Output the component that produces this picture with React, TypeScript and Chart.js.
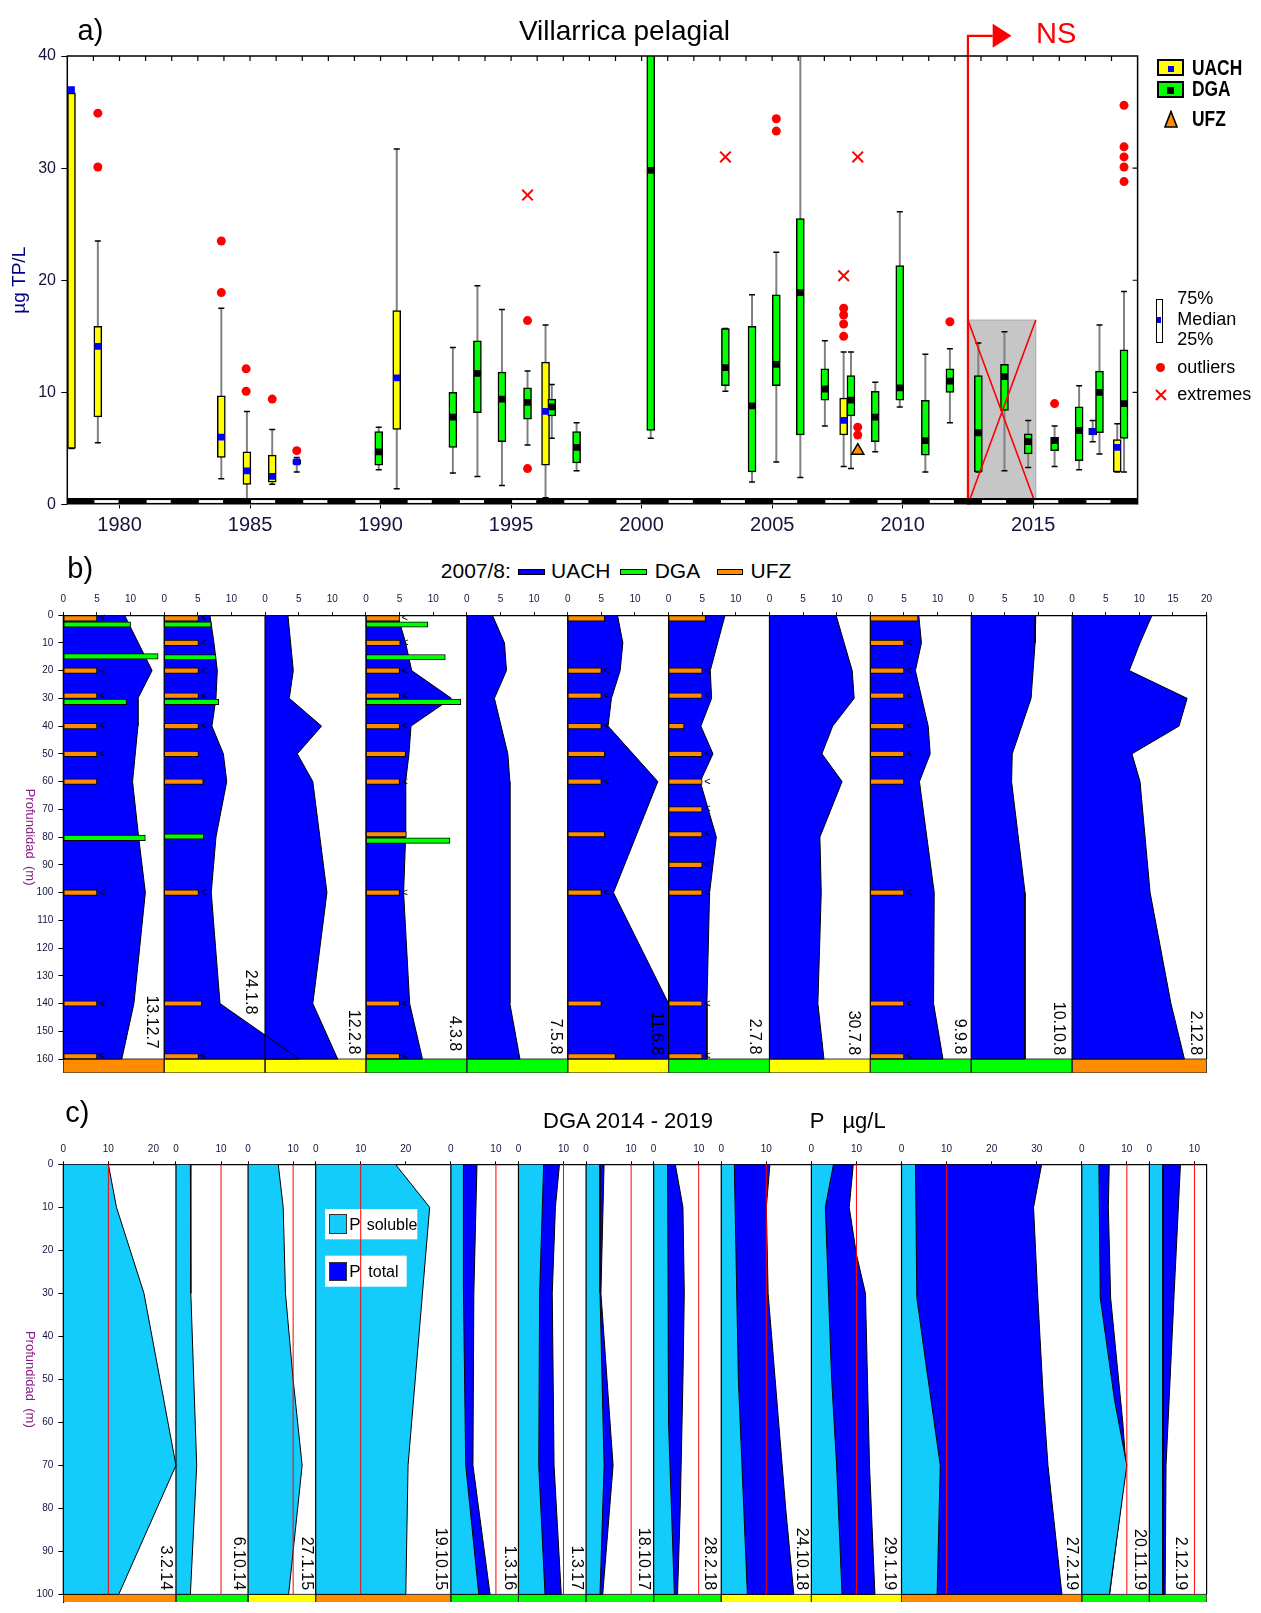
import React, { useEffect, useRef } from 'react';
import { Chart, registerables } from 'chart.js';

Chart.register(...registerables);
Chart.defaults.font.family = '"Liberation Sans", Arial, sans-serif';

// ================= Panel a) data =================
const yearTickLabels = [1980, 1985, 1990, 1995, 2000, 2005, 2010, 2015];
const valueTicks = [0, 10, 20, 30, 40];

const boxYear = [1978.16, 1979.17, 1983.9, 1984.88, 1985.85, 1986.79, 1989.93, 1990.62, 1992.77, 1993.71, 1994.65, 1995.63, 1996.32, 1996.56, 1997.51, 2000.35, 2003.21, 2004.23, 2005.16, 2006.08, 2007.02, 2007.74, 2008.02, 2008.95, 2009.89, 2010.87, 2011.81, 2012.9, 2013.9, 2014.81, 2015.82, 2016.76, 2017.28, 2017.54, 2018.22, 2018.48];
const boxSource = ['UACH', 'UACH', 'UACH', 'UACH', 'UACH', 'UACH', 'DGA', 'UACH', 'DGA', 'DGA', 'DGA', 'DGA', 'UACH', 'DGA', 'DGA', 'DGA', 'DGA', 'DGA', 'DGA', 'DGA', 'DGA', 'UACH', 'DGA', 'DGA', 'DGA', 'DGA', 'DGA', 'DGA', 'DGA', 'DGA', 'DGA', 'DGA', 'UACH', 'DGA', 'UACH', 'DGA'];
const boxQ1 = [5.0, 7.8, 4.2, 1.8, 2.0, 3.6, 3.5, 6.7, 5.1, 8.2, 5.6, 7.6, 3.5, 7.9, 3.7, 6.6, 10.6, 2.9, 10.6, 6.2, 9.3, 6.2, 7.9, 5.6, 9.3, 4.4, 10.0, 2.9, 8.4, 4.5, 4.8, 3.9, 6.2, 6.4, 2.9, 5.9];
const boxQ3 = [36.7, 15.9, 9.7, 4.7, 4.4, 4.0, 6.5, 17.3, 10.0, 14.6, 11.8, 10.4, 12.7, 9.4, 6.5, 45, 15.7, 15.9, 18.7, 25.5, 12.1, 9.5, 11.5, 10.1, 21.3, 9.3, 12.1, 11.5, 12.5, 6.3, 6.0, 8.7, 6.8, 11.9, 5.8, 13.8];
const boxMedian = [37.0, 14.1, 6.0, 3.0, 2.5, 3.8, 4.7, 11.3, 7.8, 11.7, 9.4, 9.1, 8.3, 8.7, 5.1, 29.8, 12.2, 8.8, 12.5, 18.9, 10.3, 7.5, 9.3, 7.8, 10.4, 5.7, 11.0, 6.4, 11.4, 5.6, 5.7, 6.6, 6.5, 10.0, 5.1, 9.0];
const boxMin = [5.0, 5.5, 2.3, 0.2, 1.8, 2.9, 3.1, 1.4, 2.8, 2.5, 1.7, 5.3, 0.6, 5.9, 3.0, 5.9, 10.1, 2.0, 3.8, 2.4, 7.0, 3.4, 3.2, 4.7, 8.7, 2.9, 7.3, 2.9, 3.0, 3.3, 3.4, 3.1, 5.6, 4.5, 2.9, 2.9];
const boxMax = [36.7, 23.5, 17.5, 8.3, 6.7, 4.2, 6.9, 31.7, 14.0, 19.5, 17.4, 11.9, 16.0, 10.7, 7.3, 45, 15.7, 18.7, 22.5, 45, 14.6, 13.6, 13.6, 10.9, 26.1, 13.4, 13.9, 14.4, 15.4, 7.5, 7.0, 10.6, 7.5, 16.0, 7.2, 19.0];

const outlierYear = [1979.17, 1979.17, 1983.9, 1983.9, 1984.85, 1984.85, 1985.85, 1986.79, 1995.63, 1995.63, 2005.16, 2005.16, 2007.74, 2007.74, 2007.74, 2007.74, 2008.28, 2008.28, 2011.81, 2015.82, 2018.48, 2018.48, 2018.48, 2018.48, 2018.48];
const outlierValue = [34.9, 30.1, 23.5, 18.9, 12.1, 10.1, 9.4, 4.8, 16.4, 3.2, 34.4, 33.3, 17.5, 16.9, 16.1, 15.0, 6.9, 6.2, 16.3, 9.0, 35.6, 31.9, 31.0, 30.1, 28.8];
const extremeYear = [1995.63, 2003.21, 2007.74, 2008.28];
const extremeValue = [27.6, 31.0, 20.4, 31.0];
const ufzYear = [2008.28];
const ufzValue = [4.8];

const nsPeriod = [2012.5, 2015.1];
const nsBoxTop = 16.45;
const nsArrowLevel = 41.8;
const nsArrowX = [2013.45, 2014.17];

// ================= Panel b) data =================
const bDates = ['13.12.7', '24.1.8', '12.2.8', '4.3.8', '7.5.8', '11.6.8', '2.7.8', '30.7.8', '9.9.8', '10.10.8', '2.12.8'];
const bRange = [15, 15, 15, 15, 15, 15, 15, 15, 15, 15, 20];
const bPhase = ['A', 'B', 'B', 'C', 'C', 'B', 'C', 'B', 'C', 'C', 'A'];
const bDepthTicks = [0, 10, 20, 30, 40, 50, 60, 70, 80, 90, 100, 110, 120, 130, 140, 150, 160];
const bUachDepth = [
  [0, 20, 30, 40, 60, 80, 100, 140, 160],
  [0, 10, 20, 30, 40, 50, 60, 80, 100, 140, 160],
  [0, 20, 30, 40, 50, 60, 100, 140, 160],
  [0, 10, 20, 30, 40, 50, 60, 80, 100, 140, 160],
  [0, 10, 20, 30, 50, 60, 140, 160],
  [0, 10, 20, 30, 40, 60, 100, 140, 160],
  [0, 20, 30, 40, 50, 60, 80, 100, 140, 160],
  [0, 20, 30, 40, 50, 60, 80, 100, 140, 160],
  [0, 10, 20, 40, 50, 60, 100, 140, 160],
  [0, 10, 30, 50, 60, 100, 160],
  [0, 10, 20, 30, 40, 50, 60, 100, 140, 160],
];
const bUachTP = [
  [9.1, 13.2, 11.1, 11.1, 10.3, 11.2, 12.2, 10.5, 8.7],
  [6.8, 7.4, 7.9, 7.7, 7.1, 8.8, 9.3, 7.7, 7.0, 8.3, 20.1],
  [3.4, 4.2, 3.6, 8.4, 4.8, 7.1, 9.2, 7.1, 10.8],
  [4.7, 5.9, 6.8, 12.7, 6.7, 6.4, 5.9, 5.9, 5.6, 6.5, 8.4],
  [3.8, 5.6, 5.9, 4.1, 6.1, 6.4, 6.4, 7.9],
  [7.4, 8.2, 7.8, 6.5, 6.0, 13.4, 6.8, 15.0, 15.0],
  [8.4, 6.2, 6.4, 4.8, 6.6, 4.7, 7.1, 6.1, 5.7, 5.7],
  [9.9, 12.3, 12.6, 9.4, 7.8, 10.8, 7.5, 7.7, 7.2, 8.1],
  [7.2, 7.6, 6.7, 8.6, 8.9, 7.3, 9.5, 9.4, 10.8],
  [9.6, 9.5, 8.9, 6.1, 6.0, 8.0, 8.0],
  [11.9, 10.1, 8.5, 17.1, 15.9, 8.9, 10.1, 11.6, 14.7, 16.7],
];
const bUfzDepth = [
  [1.2, 20, 29, 40, 50, 60, 100, 140, 159],
  [1.2, 10, 20, 29, 40, 50, 60, 100, 140, 159],
  [],
  [1.2, 10, 20, 29, 40, 50, 60, 79, 100, 140, 159],
  [],
  [1.2, 20, 29, 40, 50, 60, 79, 100, 140, 159],
  [1.2, 20, 29, 40, 50, 60, 70, 79, 90, 100, 140, 159],
  [],
  [1.2, 10, 20, 29, 40, 50, 60, 100, 140, 159],
  [],
  [],
];
const bUfzTP = [
  [5, 5, 5, 5, 5, 5, 5, 5, 5],
  [5.1, 5.1, 5.1, 5.1, 5.1, 5.1, 5.8, 5.1, 5.6, 5.1],
  [],
  [5.0, 5.1, 5, 5, 5, 5.9, 5, 6.0, 5, 5, 5],
  [],
  [5.5, 5, 5, 5, 5.5, 5, 5.5, 5, 5, 7.1],
  [5.5, 5, 5, 2.3, 5, 5, 5, 5, 5, 5, 5, 5],
  [],
  [7.1, 5, 5, 5, 5, 5, 5, 5, 5, 5],
  [],
  [],
];
const bUfzBelowLimit = [
  [1, 1, 1, 1, 1, 0, 1, 1, 1],
  [1, 1, 1, 1, 1, 0, 0, 1, 0, 1],
  [],
  [1, 1, 1, 1, 1, 0, 1, 0, 1, 1, 1],
  [],
  [0, 1, 1, 1, 0, 1, 0, 1, 0, 0],
  [0, 1, 1, 0, 1, 1, 1, 1, 1, 1, 1, 1],
  [],
  [0, 1, 1, 1, 1, 1, 0, 1, 1, 1],
  [],
  [],
];
const bDgaDepth = [[3.4, 14.9, 31.3, 80.3], [3.4, 15.2, 31.3, 79.8], [], [3.4, 15.2, 31.3, 81.3], [], [], [], [], [], [], []];
const bDgaTP = [[10.0, 14.1, 9.4, 12.2], [7.0, 7.7, 8.1, 5.9], [], [9.2, 11.8, 14.1, 12.5], [], [], [], [], [], [], []];

// ================= Panel c) data =================
const cDates = ['3.2.14', '6.10.14', '27.1.15', '19.10.15', '1.3.16', '1.3.17', '18.10.17', '28.2.18', '24.10.18', '29.1.19', '27.2.19', '20.11.19', '2.12.19'];
const cRange = [25, 16, 15, 30, 15, 15, 15, 15, 20, 20, 40, 15, 12.7];
const cPhase = ['A', 'C', 'B', 'A', 'C', 'C', 'C', 'C', 'B', 'B', 'A', 'C', 'C'];
const cDepthTicks = [0, 10, 20, 30, 40, 50, 60, 70, 80, 90, 100];
const cRefLevel = 10;
const cSolDepth = [
  [0, 10, 30, 70, 100],
  [0, 30, 70, 100],
  [0, 10, 30, 50, 70, 100],
  [0, 10, 30, 70, 100],
  [0, 30, 70, 100],
  [0, 30, 70, 100],
  [0, 30, 70, 100],
  [0, 60, 100],
  [0, 50, 100],
  [0, 10, 50, 70, 100],
  [0, 31, 47, 70, 100],
  [0, 31, 55, 70, 100],
  [0, 100],
];
const cSolP = [
  [10.0, 11.8, 17.9, 25.0, 12.3],
  [3.2, 3.3, 4.6, 3.2],
  [6.7, 7.8, 8.3, 10.0, 12.0, 9.0],
  [17.7, 25.3, 23.7, 20.5, 20.0],
  [2.8, 2.8, 3.3, 6.2],
  [5.6, 4.7, 4.5, 5.9],
  [3.1, 3.1, 4.0, 3.1],
  [3.1, 3.3, 4.6],
  [2.9, 3.8, 5.8],
  [4.9, 3.1, 4.5, 5.6, 6.8],
  [3.1, 3.4, 5.5, 8.6, 7.9],
  [3.8, 4.1, 7.3, 10.0, 6.1],
  [3.0, 3.0],
];
const cTotDepth = [
  [], [], [], [],
  [0, 30, 70, 100],
  [0, 10, 30, 70, 100],
  [0, 30, 70, 100],
  [0, 10, 30, 50, 80, 100],
  [0, 10, 30, 80, 100],
  [0, 10, 21, 30, 70, 100],
  [0, 10, 30, 55, 70, 100],
  [0, 10, 31, 60, 70, 100],
  [0, 30, 70, 100],
];
const cTotP = [
  [], [], [], [],
  [5.8, 5.1, 4.9, 8.7],
  [9.1, 8.2, 7.5, 7.9, 9.5],
  [4.0, 3.3, 6.0, 3.7],
  [4.8, 6.5, 6.8, 6.5, 5.9, 5.3],
  [10.8, 10.0, 10.4, 14.3, 16.1],
  [9.3, 8.4, 10.0, 12.0, 12.9, 14.1],
  [31.1, 29.3, 30.2, 31.5, 32.5, 35.6],
  [6.1, 5.9, 6.4, 9.1, 9.8, 6.2],
  [6.9, 5.5, 3.7, 3.5],
];

// ================= styles / layout =================
const YELLOW = '#ffff00';
const GREEN = '#00ff00';
const BLUE = '#0000ff';
const ORANGE = '#ff8c00';
const RED = '#ff0000';
const CYAN = '#14ccfc';
const TICK = '#14143c';
const PURPLE = '#8b1a89';
const PHASE_COLOR: Record<string, string> = { A: ORANGE, B: YELLOW, C: GREEN };

const PAGE_W = 1261;
const LA = { top: 0, h: 545, left: 67.3, right: 1137.6, areaTop: 56, areaBottom: 504.5 };
const LB = { top: 585, h: 500, left: 63.3, right: 1206.6, areaTop: 615.1, areaBottom: 1072.9, maxDepth: 160, stripBottom: 165 };
const LC = { top: 1120, h: 493, left: 63.3, right: 1206.6, areaTop: 1164.3, areaBottom: 1613, maxDepth: 100, stripBottom: 102, yMax: 101.77 };
const bLabelInset = [12.5, 15, 12.5, 12.4, 12.6, 12.6, 15.4, 16.6, 11.4, 13.3, 11.6];
const bLabelEnd = [156.3, 143.9, 158.3, 157.2, 158.3, 158.6, 158.3, 158.6, 158.3, 158.6, 158.6];
const cLabelInset = [11, 9.8, 9, 10.6, 9.5, 9.3, 10.5, 11.6, 10, 11.8, 10.2, 10.4, 26.6];
const cLabelEnd = 99;

const cumsum = (arr: number[]) => arr.map((_, i) => arr.slice(0, i).reduce((s, v) => s + v, 0));

// ================= Plugins =================
const pluginA = {
  id: 'panelAdecor',
  beforeDatasetsDraw(chart: any) {
    const { ctx, scales: { x, y } } = chart;
    const x0 = x.getPixelForValue(nsPeriod[0]);
    const x1 = x.getPixelForValue(nsPeriod[1]);
    const yT = y.getPixelForValue(nsBoxTop);
    const yB = y.getPixelForValue(0);
    ctx.save();
    ctx.fillStyle = '#c6c6c6';
    ctx.fillRect(x0, yT, x1 - x0, yB - yT);
    ctx.strokeStyle = '#a8a8a8';
    ctx.lineWidth = 1;
    ctx.strokeRect(x0, yT, x1 - x0, yB - yT);
    ctx.restore();
  },
  afterDatasetsDraw(chart: any) {
    const { ctx, chartArea: a, scales: { x, y } } = chart;
    const x0 = x.getPixelForValue(nsPeriod[0]);
    const x1 = x.getPixelForValue(nsPeriod[1]);
    const yT = y.getPixelForValue(nsBoxTop);
    const yB = y.getPixelForValue(0);
    ctx.save();
    ctx.strokeStyle = RED;
    ctx.lineWidth = 1.6;
    ctx.beginPath();
    ctx.moveTo(x0, yT); ctx.lineTo(x1, yB);
    ctx.moveTo(x1, yT); ctx.lineTo(x0, yB);
    ctx.stroke();
    // NS line + arrow
    const ya = y.getPixelForValue(nsArrowLevel);
    const xa1 = x.getPixelForValue(nsArrowX[0]);
    const xa2 = x.getPixelForValue(nsArrowX[1]);
    ctx.lineWidth = 2.2;
    ctx.beginPath();
    ctx.moveTo(x0, yB); ctx.lineTo(x0, ya); ctx.lineTo(xa1, ya);
    ctx.stroke();
    ctx.fillStyle = RED;
    ctx.beginPath();
    ctx.moveTo(xa1, ya - 12); ctx.lineTo(xa2, ya); ctx.lineTo(xa1, ya + 12);
    ctx.closePath(); ctx.fill();
    // frame
    ctx.strokeStyle = '#000';
    ctx.lineWidth = 1.5;
    ctx.beginPath();
    ctx.moveTo(a.left, a.bottom); ctx.lineTo(a.left, a.top); ctx.lineTo(a.right, a.top); ctx.lineTo(a.right, a.bottom);
    ctx.stroke();
    // top ticks every year, right ticks
    ctx.lineWidth = 1.2;
    ctx.beginPath();
    for (let yr = Math.ceil(x.min) + 1; yr < x.max; yr++) {
      const px = x.getPixelForValue(yr);
      ctx.moveTo(px, a.top); ctx.lineTo(px, a.top + 5);
    }
    [10, 20, 30].forEach((v) => {
      const py = y.getPixelForValue(v);
      ctx.moveTo(a.right - 5, py); ctx.lineTo(a.right, py);
    });
    ctx.stroke();
    // bottom dashed band
    ctx.fillStyle = '#000';
    ctx.fillRect(a.left, a.bottom - 6.5, a.right - a.left, 6.5);
    ctx.fillStyle = '#fff';
    for (let yr = Math.ceil(x.min) + 1; yr < x.max; yr += 2) {
      const p0 = x.getPixelForValue(yr) + 1;
      const p1 = x.getPixelForValue(Math.min(yr + 1, x.max)) - 1;
      ctx.fillRect(p0, a.bottom - 4.4, p1 - p0, 2.8);
    }
    ctx.restore();
  },
};

function drawDepthTitle(ctx: any, y: any, mid: number) {
  ctx.save();
  ctx.translate(30, y.getPixelForValue(mid));
  ctx.rotate(Math.PI / 2);
  ctx.fillStyle = PURPLE;
  ctx.font = '13px "Liberation Sans", Arial, sans-serif';
  ctx.textAlign = 'center';
  ctx.textBaseline = 'middle';
  ctx.fillText('Profundidad  (m)', 0, 0);
  ctx.restore();
}

function drawDateLabel(ctx: any, text: string, px: number, py: number) {
  ctx.save();
  ctx.translate(px, py);
  ctx.rotate(Math.PI / 2);
  ctx.fillStyle = '#000';
  ctx.font = '16px "Liberation Sans", Arial, sans-serif';
  ctx.textAlign = 'right';
  ctx.textBaseline = 'middle';
  ctx.fillText(text, 0, 0);
  ctx.restore();
}

const pluginB = {
  id: 'panelBdecor',
  afterDatasetsDraw(chart: any) {
    const { ctx, scales: { x, y } } = chart;
    const off = cumsum(bRange);
    const total = off[off.length - 1] + bRange[bRange.length - 1];
    ctx.save();
    ctx.strokeStyle = '#000';
    ctx.lineWidth = 1.2;
    ctx.beginPath();
    [...off, total].forEach((o) => {
      const px = x.getPixelForValue(o);
      ctx.moveTo(px, y.getPixelForValue(0));
      ctx.lineTo(px, y.getPixelForValue(LB.maxDepth));
    });
    ctx.stroke();
    ctx.fillStyle = '#000';
    ctx.font = '11px "Liberation Sans", Arial, sans-serif';
    ctx.textAlign = 'left';
    ctx.textBaseline = 'middle';
    bUfzDepth.forEach((ds, i) => ds.forEach((d, k) => {
      if (bUfzBelowLimit[i][k]) ctx.fillText('<', x.getPixelForValue(off[i] + bUfzTP[i][k]) + 2, y.getPixelForValue(d));
    }));
    ctx.restore();
    bDates.forEach((lab, i) => {
      drawDateLabel(ctx, lab, x.getPixelForValue(off[i] + bRange[i]) - bLabelInset[i], y.getPixelForValue(bLabelEnd[i]));
    });
    drawDepthTitle(ctx, y, LB.maxDepth / 2);
  },
};

const pluginC = {
  id: 'panelCdecor',
  afterDatasetsDraw(chart: any) {
    const { ctx, scales: { x, y } } = chart;
    const off = cumsum(cRange);
    const total = off[off.length - 1] + cRange[cRange.length - 1];
    ctx.save();
    // legend backgrounds (below the red reference lines)
    ctx.fillStyle = '#fff';
    ctx.fillRect(325, 1209 - LC.top, 92.3, 30.3);
    ctx.fillRect(325, 1255.7 - LC.top, 81.7, 31);
    // red reference lines at 10 µg/L
    ctx.strokeStyle = RED;
    ctx.lineWidth = 1;
    ctx.beginPath();
    off.forEach((o) => {
      const px = x.getPixelForValue(o + cRefLevel);
      ctx.moveTo(px, y.getPixelForValue(0));
      ctx.lineTo(px, y.getPixelForValue(LC.maxDepth));
    });
    ctx.stroke();
    // separators
    ctx.strokeStyle = '#000';
    ctx.lineWidth = 1.2;
    ctx.beginPath();
    [...off, total].forEach((o) => {
      const px = x.getPixelForValue(o);
      ctx.moveTo(px, y.getPixelForValue(0));
      ctx.lineTo(px, y.getPixelForValue(LC.maxDepth));
    });
    ctx.stroke();
    ctx.restore();
    cDates.forEach((lab, i) => {
      drawDateLabel(ctx, lab, x.getPixelForValue(off[i] + cRange[i]) - cLabelInset[i], y.getPixelForValue(cLabelEnd));
    });
    drawDepthTitle(ctx, y, LC.maxDepth / 2);
  },
};

// ================= Configs =================
const baseOptions = {
  responsive: false,
  maintainAspectRatio: false,
  animation: false,
  devicePixelRatio: 1,
  events: [],
};

function makeConfigA() {
  const boxColor = boxSource.map((s) => (s === 'UACH' ? YELLOW : GREEN));
  const medColor = boxSource.map((s) => (s === 'UACH' ? BLUE : '#000'));
  return {
    type: 'scatter',
    data: {
      datasets: [
        { type: 'bar', data: boxYear.map((x, i) => ({ x, y: [boxMin[i], boxMax[i]] })), backgroundColor: '#7f7f7f', borderWidth: 0, barThickness: 1.3, grouped: false, order: 6 },
        { type: 'scatter', data: [...boxYear.map((x, i) => ({ x, y: boxMin[i] })), ...boxYear.map((x, i) => ({ x, y: boxMax[i] }))], pointStyle: 'line', pointRadius: 3, pointBorderColor: '#000', pointBorderWidth: 1.5, order: 5 },
        { type: 'bar', data: boxYear.map((x, i) => ({ x, y: [boxQ1[i], boxQ3[i]] })), backgroundColor: boxColor, borderColor: '#000', borderWidth: 1.5, borderSkipped: false, barThickness: 8, grouped: false, order: 4 },
        { type: 'scatter', data: boxYear.map((x, i) => ({ x, y: boxMedian[i] })), pointStyle: 'rect', pointRadius: 4.8, pointBackgroundColor: medColor, pointBorderWidth: 0, order: 3 },
        { type: 'scatter', data: outlierYear.map((x, i) => ({ x, y: outlierValue[i] })), pointStyle: 'circle', pointRadius: 4.5, pointBackgroundColor: RED, pointBorderColor: RED, pointBorderWidth: 0, order: 2 },
        { type: 'scatter', data: extremeYear.map((x, i) => ({ x, y: extremeValue[i] })), pointStyle: 'crossRot', pointRadius: 7.5, pointBorderColor: RED, pointBorderWidth: 2, order: 2 },
        { type: 'scatter', data: ufzYear.map((x, i) => ({ x, y: ufzValue[i] })), pointStyle: 'triangle', pointRadius: 7, pointBackgroundColor: ORANGE, pointBorderColor: '#000', pointBorderWidth: 1.5, order: 1 },
      ],
    },
    options: {
      ...baseOptions,
      layout: { padding: { left: 0, top: LA.areaTop - LA.top, right: PAGE_W - LA.right, bottom: 0 } },
      plugins: { legend: { display: false }, tooltip: { enabled: false } },
      scales: {
        x: {
          type: 'linear', position: 'bottom', min: 1978, max: 2019, offset: false,
          afterBuildTicks: (ax: any) => { ax.ticks = yearTickLabels.map((v) => ({ value: v })); },
          afterFit: (ax: any) => { ax.height = LA.top + LA.h - LA.areaBottom; },
          ticks: { autoSkip: false, maxRotation: 0, padding: 4.5, color: TICK, font: { size: 20 }, callback: (v: any) => String(v) },
          grid: { drawOnChartArea: false, tickLength: 4, color: '#000', offset: false },
          border: { display: false },
        },
        y: {
          type: 'linear', min: 0, max: 40, offset: false,
          afterBuildTicks: (ax: any) => { ax.ticks = valueTicks.map((v) => ({ value: v })); },
          afterFit: (ax: any) => { ax.width = LA.left; },
          ticks: { padding: 5.3, color: TICK, font: { size: 16 } },
          grid: { drawOnChartArea: false, tickLength: 6, color: '#000', offset: false },
          border: { display: false },
          title: { display: true, text: 'µg TP/L', color: '#000080', font: { size: 19 }, padding: { top: 8, bottom: 0 } },
        },
      },
    },
    plugins: [pluginA],
  };
}

function profilePolygon(offset: number, depths: number[], vals: number[], bottom: number) {
  return [{ x: offset, y: 0 }, ...depths.map((d, k) => ({ x: offset + vals[k], y: d })), { x: offset, y: bottom }];
}

function stripPolygon(offset: number, width: number, top: number, bottom: number) {
  return [{ x: offset, y: top }, { x: offset + width, y: top }, { x: offset + width, y: bottom }, { x: offset, y: bottom }, { x: offset, y: top }];
}

const polyStyle = { type: 'line', fill: 'shape', borderColor: '#000', borderWidth: 1, pointRadius: 0, tension: 0 };

function makeConfigB() {
  const off = cumsum(bRange);
  const total = off[off.length - 1] + bRange[bRange.length - 1];
  const tickVals: number[] = [];
  const tickLabels: string[] = [];
  bRange.forEach((w, i) => {
    const last = i === bRange.length - 1;
    for (let t = 0; last ? t <= w : t < w; t += 5) { tickVals.push(off[i] + t); tickLabels.push(String(t)); }
  });
  const datasets: any[] = [];
  bUachDepth.forEach((ds, i) => datasets.push({ ...polyStyle, data: profilePolygon(off[i], ds, bUachTP[i], LB.maxDepth), backgroundColor: BLUE, order: 4 }));
  bPhase.forEach((ph, i) => datasets.push({ ...polyStyle, data: stripPolygon(off[i], bRange[i], LB.maxDepth, LB.stripBottom), backgroundColor: PHASE_COLOR[ph], borderColor: '#333', order: 5 }));
  const ufz: any[] = [];
  bUfzDepth.forEach((ds, i) => ds.forEach((d, k) => ufz.push({ x: [off[i], off[i] + bUfzTP[i][k]], y: d })));
  const dga: any[] = [];
  bDgaDepth.forEach((ds, i) => ds.forEach((d, k) => dga.push({ x: [off[i], off[i] + bDgaTP[i][k]], y: d })));
  datasets.push({ type: 'bar', indexAxis: 'y', data: ufz, backgroundColor: ORANGE, borderColor: '#000', borderWidth: 1, borderSkipped: false, barThickness: 5.5, grouped: false, order: 2 });
  datasets.push({ type: 'bar', indexAxis: 'y', data: dga, backgroundColor: GREEN, borderColor: '#000', borderWidth: 1, borderSkipped: false, barThickness: 5.5, grouped: false, order: 1 });
  return {
    type: 'scatter',
    data: { datasets },
    options: {
      ...baseOptions,
      layout: { padding: { left: 0, top: 0, right: PAGE_W - LB.right, bottom: LB.top + LB.h - LB.areaBottom } },
      plugins: { legend: { display: false }, tooltip: { enabled: false } },
      scales: {
        x: {
          type: 'linear', position: 'top', min: 0, max: total, offset: false,
          afterBuildTicks: (ax: any) => { ax.ticks = tickVals.map((v) => ({ value: v })); },
          afterFit: (ax: any) => { ax.height = LB.areaTop - LB.top; },
          ticks: { autoSkip: false, maxRotation: 0, padding: 7, color: TICK, font: { size: 10 }, callback: (_v: any, i: number) => tickLabels[i] },
          grid: { drawOnChartArea: false, tickLength: 3, color: '#000', offset: false },
          border: { color: '#000', width: 1.2 },
        },
        y: {
          type: 'linear', reverse: true, min: 0, max: LB.stripBottom, offset: false,
          afterBuildTicks: (ax: any) => { ax.ticks = bDepthTicks.map((v) => ({ value: v })); },
          afterFit: (ax: any) => { ax.width = LB.left; },
          ticks: { padding: 5, color: TICK, font: { size: 10 } },
          grid: { drawOnChartArea: false, tickLength: 5, color: '#000', offset: false },
          border: { color: '#000', width: 1.2 },
        },
      },
    },
    plugins: [pluginB],
  };
}

function makeConfigC() {
  const off = cumsum(cRange);
  const total = off[off.length - 1] + cRange[cRange.length - 1];
  const tickVals: number[] = [];
  const tickLabels: string[] = [];
  cRange.forEach((w, i) => {
    for (let t = 0; t < w - 0.5; t += 10) { tickVals.push(off[i] + t); tickLabels.push(String(t)); }
  });
  const datasets: any[] = [];
  cTotDepth.forEach((ds, i) => { if (ds.length) datasets.push({ ...polyStyle, data: profilePolygon(off[i], ds, cTotP[i], LC.maxDepth), backgroundColor: BLUE, order: 4 }); });
  cSolDepth.forEach((ds, i) => datasets.push({ ...polyStyle, data: profilePolygon(off[i], ds, cSolP[i], LC.maxDepth), backgroundColor: CYAN, order: 3 }));
  cPhase.forEach((ph, i) => datasets.push({ ...polyStyle, data: stripPolygon(off[i], cRange[i], LC.maxDepth, LC.stripBottom), backgroundColor: PHASE_COLOR[ph], borderColor: '#333', order: 5 }));
  return {
    type: 'scatter',
    data: { datasets },
    options: {
      ...baseOptions,
      layout: { padding: { left: 0, top: 0, right: PAGE_W - LC.right, bottom: LC.top + LC.h - LC.areaBottom } },
      plugins: { legend: { display: false }, tooltip: { enabled: false } },
      scales: {
        x: {
          type: 'linear', position: 'top', min: 0, max: total, offset: false,
          afterBuildTicks: (ax: any) => { ax.ticks = tickVals.map((v) => ({ value: v })); },
          afterFit: (ax: any) => { ax.height = LC.areaTop - LC.top; },
          ticks: { autoSkip: false, maxRotation: 0, padding: 6.3, color: TICK, font: { size: 10 }, callback: (_v: any, i: number) => tickLabels[i] },
          grid: { drawOnChartArea: false, tickLength: 3, color: '#000', offset: false },
          border: { color: '#000', width: 1.2 },
        },
        y: {
          type: 'linear', reverse: true, min: 0, max: LC.yMax, offset: false,
          afterBuildTicks: (ax: any) => { ax.ticks = cDepthTicks.map((v) => ({ value: v })); },
          afterFit: (ax: any) => { ax.width = LC.left; },
          ticks: { padding: 5, color: TICK, font: { size: 10 } },
          grid: { drawOnChartArea: false, tickLength: 5, color: '#000', offset: false },
          border: { color: '#000', width: 1.2 },
        },
      },
    },
    plugins: [pluginC],
  };
}

// ================= Components =================
function ChartCanvas({ top, height, make }: { top: number; height: number; make: () => any }) {
  const ref = useRef<HTMLCanvasElement>(null);
  useEffect(() => {
    const chart = new Chart(ref.current as HTMLCanvasElement, make());
    return () => chart.destroy();
  }, [make]);
  return <canvas ref={ref} width={PAGE_W} height={height} style={{ position: 'absolute', left: 0, top, width: PAGE_W, height }} />;
}

function Txt({ x, y, size, children, color = '#000', weight = 400, center = false, sx = 1 }: any) {
  const tf = [center ? 'translateX(-50%)' : '', sx !== 1 ? `scaleX(${sx})` : ''].join(' ').trim();
  return (
    <div style={{ position: 'absolute', left: x, top: y - size * 0.6, fontSize: size, lineHeight: `${size * 1.2}px`, color, fontWeight: weight, whiteSpace: 'pre', transform: tf || undefined, transformOrigin: 'left center' }}>
      {children}
    </div>
  );
}

function Box({ x, y, w, h, bg, border = '1px solid #000' }: any) {
  return <div style={{ position: 'absolute', left: x, top: y, width: w, height: h, background: bg, border, boxSizing: 'border-box' }} />;
}

export default function App() {
  return (
    <div style={{ position: 'absolute', left: 0, top: 0, width: PAGE_W, height: 1613, overflow: 'hidden', background: '#fff', fontFamily: '"Liberation Sans", Arial, sans-serif' }}>
      <ChartCanvas top={LA.top} height={LA.h} make={makeConfigA} />
      <ChartCanvas top={LB.top} height={LB.h} make={makeConfigB} />
      <ChartCanvas top={LC.top} height={LC.h} make={makeConfigC} />

      {/* ---- panel a texts & legend ---- */}
      <Txt x={77.5} y={30} size={29}>a)</Txt>
      <Txt x={624.5} y={31} size={28} center>Villarrica pelagial</Txt>
      <Txt x={1036} y={33.5} size={29} color={RED}>NS</Txt>

      <div style={{ position: 'absolute', left: 1157.3, top: 59.3, width: 27, height: 17, boxSizing: 'border-box', border: '2px solid #000', background: YELLOW }}>
        <div style={{ position: 'absolute', left: 8.5, top: 4.5, width: 6, height: 6, background: BLUE }} />
      </div>
      <div style={{ position: 'absolute', left: 1157.3, top: 80.7, width: 27, height: 17, boxSizing: 'border-box', border: '2px solid #000', background: GREEN }}>
        <div style={{ position: 'absolute', left: 8, top: 4, width: 7, height: 7, background: '#000' }} />
      </div>
      <svg style={{ position: 'absolute', left: 1164, top: 110 }} width={14} height={19}>
        <polygon points="7,1.5 13,17 1,17" fill={ORANGE} stroke="#000" strokeWidth={1.6} />
      </svg>
      <Txt x={1191.7} y={68.3} size={22} weight={700} sx={0.79}>UACH</Txt>
      <Txt x={1191.7} y={89.2} size={22} weight={700} sx={0.79}>DGA</Txt>
      <Txt x={1191.7} y={119.5} size={22} weight={700} sx={0.79}>UFZ</Txt>

      <div style={{ position: 'absolute', left: 1156, top: 299, width: 7, height: 43.5, boxSizing: 'border-box', border: '1.5px solid #000', background: '#fff' }}>
        <div style={{ position: 'absolute', left: 0, top: 16.8, width: 4, height: 6, background: BLUE }} />
      </div>
      <Txt x={1177.3} y={299} size={18}>75%</Txt>
      <Txt x={1177.3} y={319.3} size={18}>Median</Txt>
      <Txt x={1177.3} y={340} size={18}>25%</Txt>
      <div style={{ position: 'absolute', left: 1156.2, top: 363.2, width: 9, height: 9, borderRadius: '50%', background: RED }} />
      <Txt x={1177.3} y={367.7} size={18}>outliers</Txt>
      <svg style={{ position: 'absolute', left: 1155, top: 389 }} width={12} height={12}>
        <path d="M1,1 L11,11 M11,1 L1,11" stroke={RED} strokeWidth={2} />
      </svg>
      <Txt x={1177.3} y={395} size={18}>extremes</Txt>

      {/* ---- panel b texts & legend ---- */}
      <Txt x={67.3} y={568.3} size={29}>b)</Txt>
      <Txt x={440.8} y={571} size={21}>2007/8:</Txt>
      <Box x={518} y={569} w={27} h={6} bg={BLUE} />
      <Txt x={551} y={571} size={21}>UACH</Txt>
      <Box x={620} y={569} w={27} h={6} bg={GREEN} />
      <Txt x={654.7} y={571} size={21}>DGA</Txt>
      <Box x={716.7} y={569} w={26} h={6} bg={ORANGE} />
      <Txt x={750.6} y={571} size={21}>UFZ</Txt>

      {/* ---- panel c texts & legend ---- */}
      <Txt x={65.3} y={1112.8} size={29}>c)</Txt>
      <Txt x={543} y={1120.8} size={22}>DGA 2014 - 2019</Txt>
      <Txt x={809.7} y={1121.5} size={22}>P</Txt>
      <Txt x={842.4} y={1121.5} size={22}>µg/L</Txt>
      <Box x={329.3} y={1214.3} w={17.4} h={20} bg={CYAN} border="1px solid #333" />
      <Txt x={349.3} y={1225} size={17}>P</Txt>
      <Txt x={366.7} y={1225} size={16}>soluble</Txt>
      <Box x={329.3} y={1261.7} w={17.4} h={19.3} bg={BLUE} border="1px solid #333" />
      <Txt x={349.3} y={1271.7} size={17}>P</Txt>
      <Txt x={368.3} y={1271.7} size={16}>total</Txt>
    </div>
  );
}
